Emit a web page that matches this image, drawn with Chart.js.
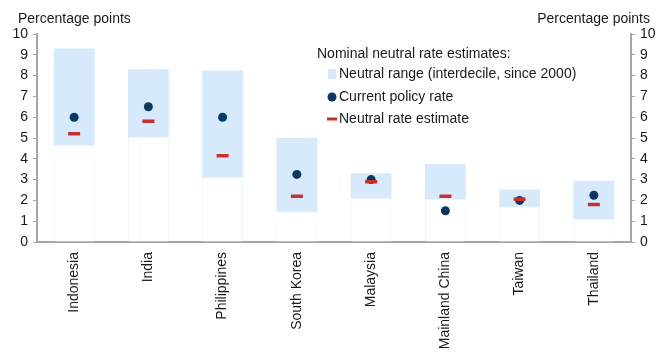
<!DOCTYPE html>
<html>
<head>
<meta charset="utf-8">
<script src="https://cdn.jsdelivr.net/npm/chart.js@4"></script>
<style>
  html, body { margin: 0; padding: 0; background: #ffffff; }
  #wrap { width: 659px; height: 352px; position: relative; }
</style>
</head>
<body>
<div id="wrap"><canvas id="chart"></canvas></div>
<script>
// Economies on the x axis
const economies = ['Indonesia', 'India', 'Philippines', 'South Korea', 'Malaysia', 'Mainland China', 'Taiwan', 'Thailand'];
// Neutral range, interdecile since 2000 (percentage points)
const rangeLow  = [4.65, 5.05, 3.1, 1.45, 2.1, 2.05, 1.7, 1.1];
const rangeHigh = [9.3, 8.3, 8.25, 5.0, 3.3, 3.75, 2.52, 2.95];
// Current policy rate
const policyRate = [6.0, 6.5, 6.0, 3.25, 3.0, 1.5, 2.0, 2.25];
// Point estimate of the neutral rate
const neutralEstimate = [5.2, 5.8, 4.15, 2.2, 2.9, 2.2, 2.05, 1.8];
// Y axis ticks
const yTicks = [0, 1, 2, 3, 4, 5, 6, 7, 8, 9, 10];

const FONT = 'Liberation Sans, Arial, sans-serif';
const TEXT = '#1a1a1a';
const AXIS = '#a6a6a6';
const RANGE_FILL = '#d6eafb';
const DOT = '#0a3764';
const DASH = '#c9302c';

const rangeData = economies.map((_, i) => [rangeLow[i], rangeHigh[i]]);
const baseData = economies.map((_, i) => [0, rangeLow[i]]);

// Unit captions above each y axis and the in-plot legend
const annotations = {
  id: 'annotations',
  afterDraw(chart) {
    const ctx = chart.ctx;
    ctx.save();
    ctx.fillStyle = TEXT;
    ctx.font = '14px ' + FONT;
    ctx.textBaseline = 'middle';
    ctx.textAlign = 'left';
    ctx.fillText('Percentage points', 18, 19);
    ctx.textAlign = 'right';
    ctx.fillText('Percentage points', 650, 19);

    // Legend
    const lx = 317, ly = 54;
    ctx.textAlign = 'left';
    ctx.fillText('Nominal neutral rate estimates:', lx, ly);
    const ds = chart.data.datasets;
    const rows = [
      { d: ds.find(d => d.key === 'range'), y: 74 },
      { d: ds.find(d => d.key === 'policy'), y: 97 },
      { d: ds.find(d => d.key === 'neutral'), y: 119 }
    ];
    rows.forEach(r => {
      const mx = 332;
      if (r.d.key === 'range') {
        ctx.fillStyle = RANGE_FILL;
        ctx.fillRect(mx - 4, r.y - 5, 8, 10);
      } else if (r.d.key === 'policy') {
        ctx.fillStyle = DOT;
        ctx.beginPath();
        ctx.arc(mx, r.y, 4.5, 0, Math.PI * 2);
        ctx.fill();
      } else {
        ctx.strokeStyle = DASH;
        ctx.lineWidth = 3;
        ctx.beginPath();
        ctx.moveTo(mx - 5, r.y);
        ctx.lineTo(mx + 5, r.y);
        ctx.stroke();
      }
      ctx.fillStyle = TEXT;
      ctx.fillText(r.d.label, 339, r.y);
    });
    ctx.restore();
  }
};

new Chart(document.getElementById('chart'), {
  data: {
    labels: economies,
    datasets: [
      {
        key: 'neutral',
        type: 'line',
        label: 'Neutral rate estimate',
        data: neutralEstimate,
        showLine: false,
        pointStyle: 'line',
        pointRadius: 6,
        pointBorderWidth: 3.5,
        borderColor: DASH,
        backgroundColor: DASH,
        order: 0,
        yAxisID: 'y'
      },
      {
        key: 'policy',
        type: 'line',
        label: 'Current policy rate',
        data: policyRate,
        showLine: false,
        pointStyle: 'circle',
        pointRadius: 4.5,
        pointBorderWidth: 0,
        borderColor: DOT,
        backgroundColor: DOT,
        order: 1,
        yAxisID: 'y'
      },
      {
        key: 'range',
        type: 'bar',
        label: 'Neutral range (interdecile, since 2000)',
        data: rangeData,
        backgroundColor: RANGE_FILL,
        borderWidth: 0,
        grouped: false,
        categoryPercentage: 1,
        barPercentage: 0.55,
        order: 2,
        yAxisID: 'y'
      },
      {
        key: 'base',
        type: 'bar',
        label: 'base',
        data: baseData,
        backgroundColor: '#ffffff',
        borderColor: 'rgba(205,220,240,0.35)',
        borderWidth: 1,
        grouped: false,
        categoryPercentage: 1,
        barPercentage: 0.55,
        order: 3,
        yAxisID: 'y'
      }
    ]
  },
  options: {
    responsive: true,
    maintainAspectRatio: false,
    animation: false,
    layout: { padding: { top: 34, left: 0, right: 0, bottom: 0 } },
    plugins: {
      legend: { display: false },
      tooltip: { enabled: false },
      title: { display: false }
    },
    scales: {
      x: {
        grid: { display: false },
        border: { color: AXIS, width: 2 },
        ticks: {
          color: TEXT,
          font: { family: FONT, size: 14 },
          minRotation: 90,
          maxRotation: 90,
          autoSkip: false,
          padding: 2
        },
        afterFit(s) { s.height = 110; }
      },
      y: {
        position: 'left',
        min: 0,
        max: 10,
        afterBuildTicks(s) { s.ticks = yTicks.map(v => ({ value: v })); },
        grid: { drawOnChartArea: false, drawTicks: true, tickLength: 4, color: AXIS },
        border: { color: AXIS, width: 2 },
        ticks: { color: TEXT, font: { family: FONT, size: 14 }, padding: 5 },
        afterFit(s) { s.width = 37; }
      },
      y2: {
        position: 'right',
        min: 0,
        max: 10,
        afterBuildTicks(s) { s.ticks = yTicks.map(v => ({ value: v })); },
        grid: { drawOnChartArea: false, drawTicks: true, tickLength: 4, color: AXIS },
        border: { color: AXIS, width: 2 },
        ticks: { color: TEXT, font: { family: FONT, size: 14 }, padding: 5 },
        afterFit(s) { s.width = 28; }
      }
    }
  },
  plugins: [annotations]
});
</script>
</body>
</html>
